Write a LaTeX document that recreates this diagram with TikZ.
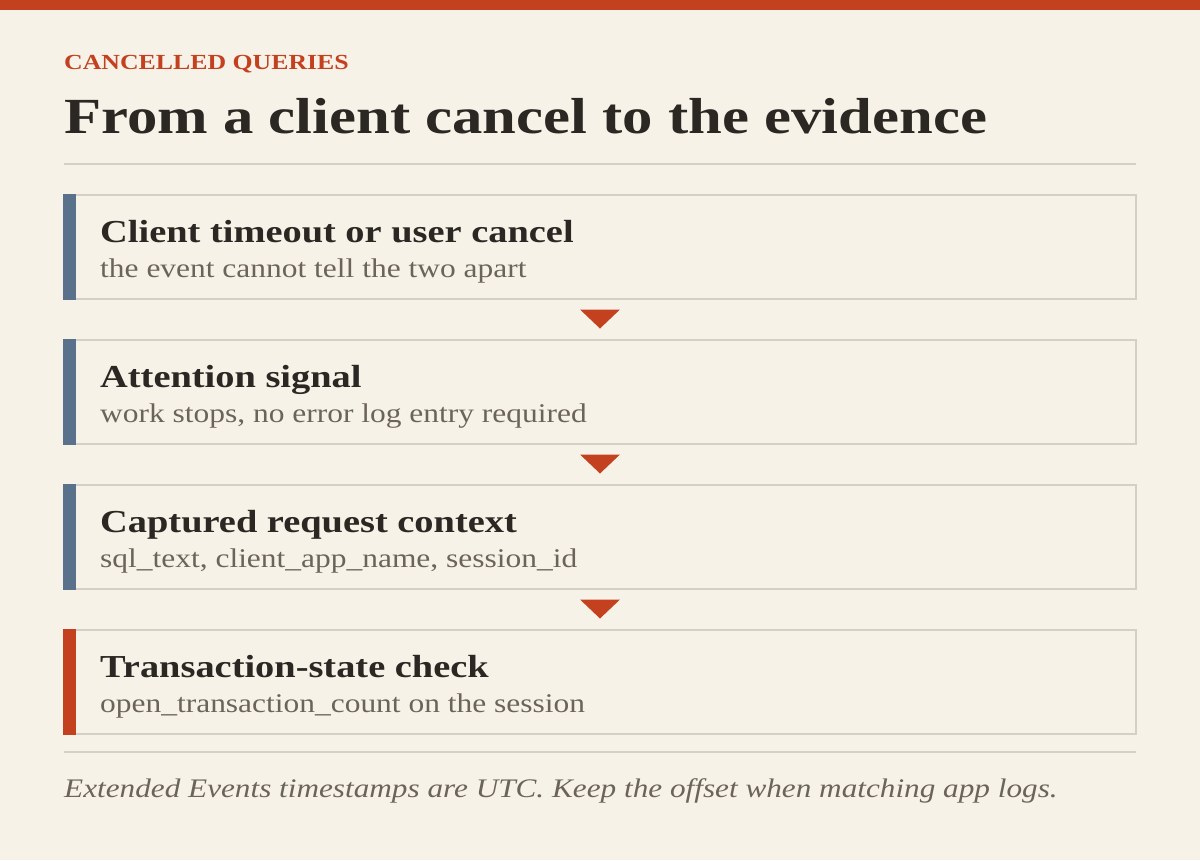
\documentclass[tikz,border=0pt]{standalone}
\usepackage{fontspec}
\setmainfont{Liberation Serif}[FakeStretch=1.165, BoldFeatures={FakeStretch=1.2}]
\usetikzlibrary{calc,positioning}
\definecolor{paper}{HTML}{F7F2E8}
\definecolor{rust}{HTML}{C4411F}
\definecolor{slate}{HTML}{5A718B}
\definecolor{rule}{HTML}{D6CFC3}
\definecolor{ink}{HTML}{2B2824}
\definecolor{muted}{HTML}{6B645A}

\begin{document}
\begin{tikzpicture}[x=1pt, y=-1pt,
  card/.style={draw=rule, line width=2pt, minimum width=1072pt, minimum height=104pt, inner sep=0pt},
  head/.style={anchor=base west, inner sep=0pt, text=ink, font=\fontsize{32}{38}\selectfont\bfseries},
  sub/.style={anchor=base west, inner sep=0pt, text=muted, font=\fontsize{27}{32}\selectfont},
  flowtip/.style={fill=rust}]
\useasboundingbox (0,0) rectangle (1200,860);
\fill[paper] (0,0) rectangle (1200,860);
\fill[rust] (0,0) rectangle (1200,10);

% header
\node[anchor=base west, inner sep=0pt, text=rust, font=\fontsize{21.5}{26}\selectfont\bfseries] (kicker) at (64,69) {CANCELLED QUERIES};
\node[anchor=base west, inner sep=0pt, text=ink, font=\fontsize{50.6}{60}\selectfont\bfseries] (title) at (64,133) {From a client cancel to the evidence};
\draw[rule, line width=2pt] (64,164) -- (1136,164);

% steps
\node[card] (box1) at (600,247) {};
\fill[slate] (box1.north west) rectangle ($(box1.south west)+(13,0)$);
\node[head] (h1) at ($(box1.north west)+(37,48)$) {Client timeout or user cancel};
\node[sub] (s1) at ($(box1.north west)+(37,83)$) {the event cannot tell the two apart};

\node[card] (box2) at (600,392) {};
\fill[slate] (box2.north west) rectangle ($(box2.south west)+(13,0)$);
\node[head] (h2) at ($(box2.north west)+(37,48)$) {Attention signal};
\node[sub] (s2) at ($(box2.north west)+(37,83)$) {work stops, no error log entry required};

\node[card] (box3) at (600,537) {};
\fill[slate] (box3.north west) rectangle ($(box3.south west)+(13,0)$);
\node[head] (h3) at ($(box3.north west)+(37,48)$) {Captured request context};
\node[sub] (s3) at ($(box3.north west)+(37,83)$) {sql\_text, client\_app\_name, session\_id};

\node[card] (box4) at (600,682) {};
\fill[rust] (box4.north west) rectangle ($(box4.south west)+(13,0)$);
\node[head] (h4) at ($(box4.north west)+(37,48)$) {Transaction-state check};
\node[sub] (s4) at ($(box4.north west)+(37,83)$) {open\_transaction\_count on the session};

% arrows between steps
\coordinate (m1) at ($(box1.south)!0.5!(box2.north)$);
\coordinate (m2) at ($(box2.south)!0.5!(box3.north)$);
\coordinate (m3) at ($(box3.south)!0.5!(box4.north)$);
\fill[flowtip] ($(m1)+(-20,-10)$) -- ($(m1)+(20,-10)$) -- ($(m1)+(0,9)$) -- cycle;
\fill[flowtip] ($(m2)+(-20,-10)$) -- ($(m2)+(20,-10)$) -- ($(m2)+(0,9)$) -- cycle;
\fill[flowtip] ($(m3)+(-20,-10)$) -- ($(m3)+(20,-10)$) -- ($(m3)+(0,9)$) -- cycle;

% footer
\draw[rule, line width=2pt] (64,752) -- (1136,752);
\node[anchor=base west, inner sep=0pt, text=muted, font=\fontsize{26.8}{32}\selectfont\itshape] (note) at (64,797) {Extended Events timestamps are UTC. Keep the offset when matching app logs.};
\end{tikzpicture}
\end{document}
